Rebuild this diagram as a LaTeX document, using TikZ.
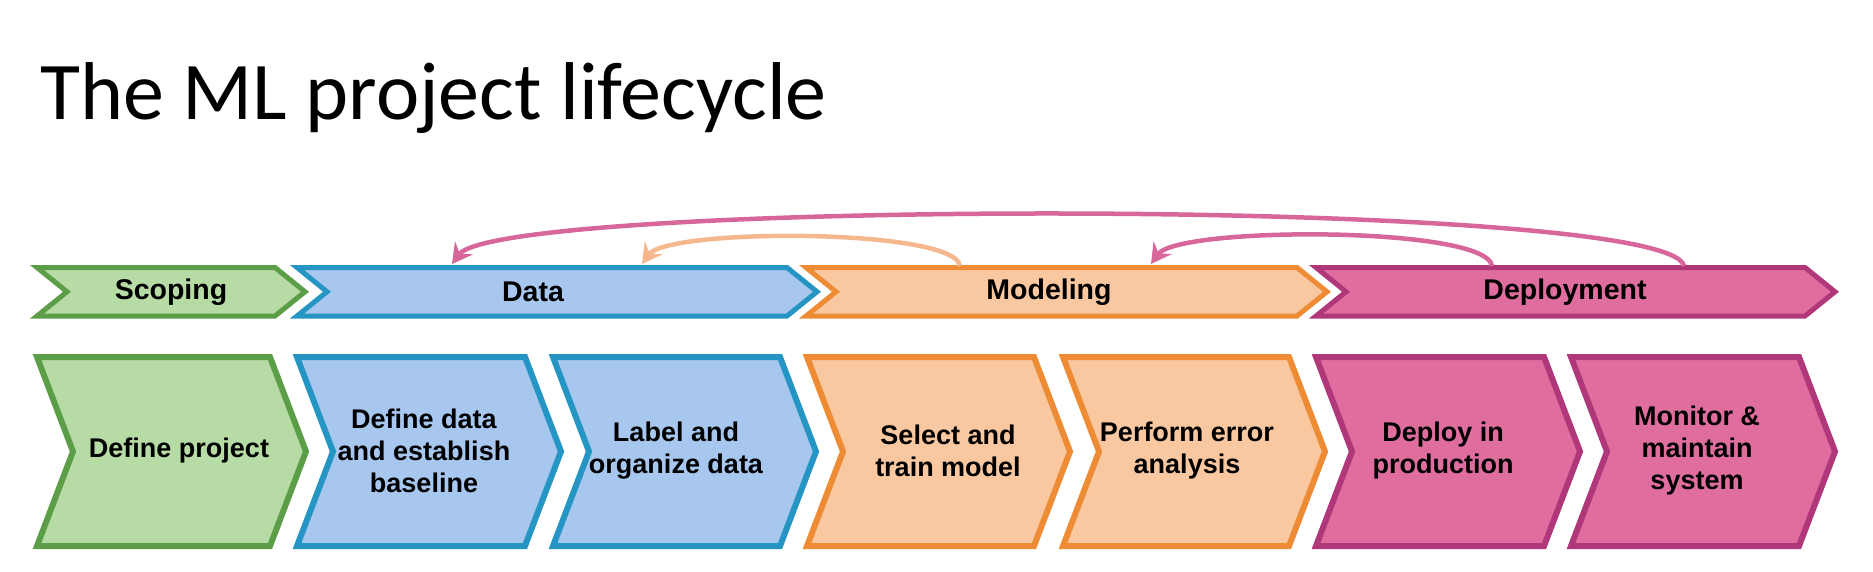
\documentclass[tikz,border=0pt]{standalone}
\usepackage{fontspec}
\setmainfont{Liberation Sans}
\newfontfamily\titlefont{Carlito}
\usetikzlibrary{arrows.meta}
\definecolor{gfill}{HTML}{B6DBA5}
\definecolor{gline}{HTML}{5C9E48}
\definecolor{bfill}{HTML}{A7C7EF}
\definecolor{bline}{HTML}{2596C4}
\definecolor{ofill}{HTML}{F9C8A0}
\definecolor{oline}{HTML}{EE8C35}
\definecolor{pfill}{HTML}{DF6E9F}
\definecolor{pline}{HTML}{B0377A}
\definecolor{parrow}{HTML}{D7669A}
\definecolor{oarrow}{HTML}{F5B88E}
\newcommand{\chev}[6]{\draw[#6] (#1,#3) -- ({#2-#5},#3) -- (#2,{(#3+#4)/2}) -- ({#2-#5},#4) -- (#1,#4) -- ({#1+#5},{(#3+#4)/2}) -- cycle;}
\tikzset{
  toprow/.style={line width=5pt, line join=miter},
  botrow/.style={line width=6pt, line join=miter},
  green/.style={fill=gfill, draw=gline},
  blue/.style={fill=bfill, draw=bline},
  orange/.style={fill=ofill, draw=oline},
  pink/.style={fill=pfill, draw=pline},
  phase/.style={inner sep=0pt, font=\bfseries\fontsize{28.5}{32}\selectfont},
  stepbox/.style={inner sep=0pt, align=center, font=\bfseries\fontsize{27}{32}\selectfont},
  fbarrow/.style={line width=4.5pt, -{Stealth[length=20pt,width=22pt,inset=7pt]}},
}
\begin{document}
\begin{tikzpicture}[x=1pt,y=-1pt]
\useasboundingbox (0,0) rectangle (1873,571);
\node[anchor=base west, inner sep=0pt, font=\titlefont\fontsize{82}{90}\selectfont] (title) at (40,119) {The ML project lifecycle};
% top row
\chev{37}{305}{267.5}{316}{30}{toprow,green}
\chev{297}{817}{267.5}{316}{30}{toprow,blue}
\chev{806}{1327}{267.5}{316}{30}{toprow,orange}
\chev{1316}{1835}{267.5}{316}{30}{toprow,pink}
\node[phase] (scoping) at (171,292) {Scoping};
\node[phase] (data) at (533,292) {Data};
\node[phase] (modeling) at (1049,292) {Modeling};
\node[phase] (deployment) at (1565,292) {Deployment};
% bottom row
\chev{37}{306}{357}{546}{36}{botrow,green}
\chev{297}{561}{357}{546}{36}{botrow,blue}
\chev{553}{816}{357}{546}{36}{botrow,blue}
\chev{807}{1070}{357}{546}{36}{botrow,orange}
\chev{1063}{1325}{357}{546}{36}{botrow,orange}
\chev{1316}{1580}{357}{546}{36}{botrow,pink}
\chev{1571}{1835}{357}{546}{36}{botrow,pink}
\node[stepbox] (s1) at (179,451) {Define project};
\node[stepbox] (s2) at (424,451) {Define data\\and establish\\baseline};
\node[stepbox] (s3) at (676,451) {Label and\\organize data};
\node[stepbox] (s4) at (948,451) {Select and\\train model};
\node[stepbox] (s5) at (1187,451) {Perform error\\analysis};
\node[stepbox] (s6) at (1443,451) {Deploy in\\production};
\node[stepbox] (s7) at (1697,451) {Monitor \&\\maintain\\system};
% loop arrows
\coordinate (depA) at (1684,266);
\coordinate (depB) at (1492,266);
\coordinate (modA) at (960,266);
\coordinate (modIn) at (1151,264);
\coordinate (datIn1) at (452,264);
\coordinate (datIn2) at (642,264);
\draw[fbarrow, parrow] (depA) .. controls (1670,197) and (500,199) .. (datIn1);
\draw[fbarrow, oarrow] (modA) .. controls (955,228) and (668,228) .. (datIn2);
\draw[fbarrow, parrow] (depB) .. controls (1487,226) and (1178,226) .. (modIn);
\end{tikzpicture}
\end{document}
